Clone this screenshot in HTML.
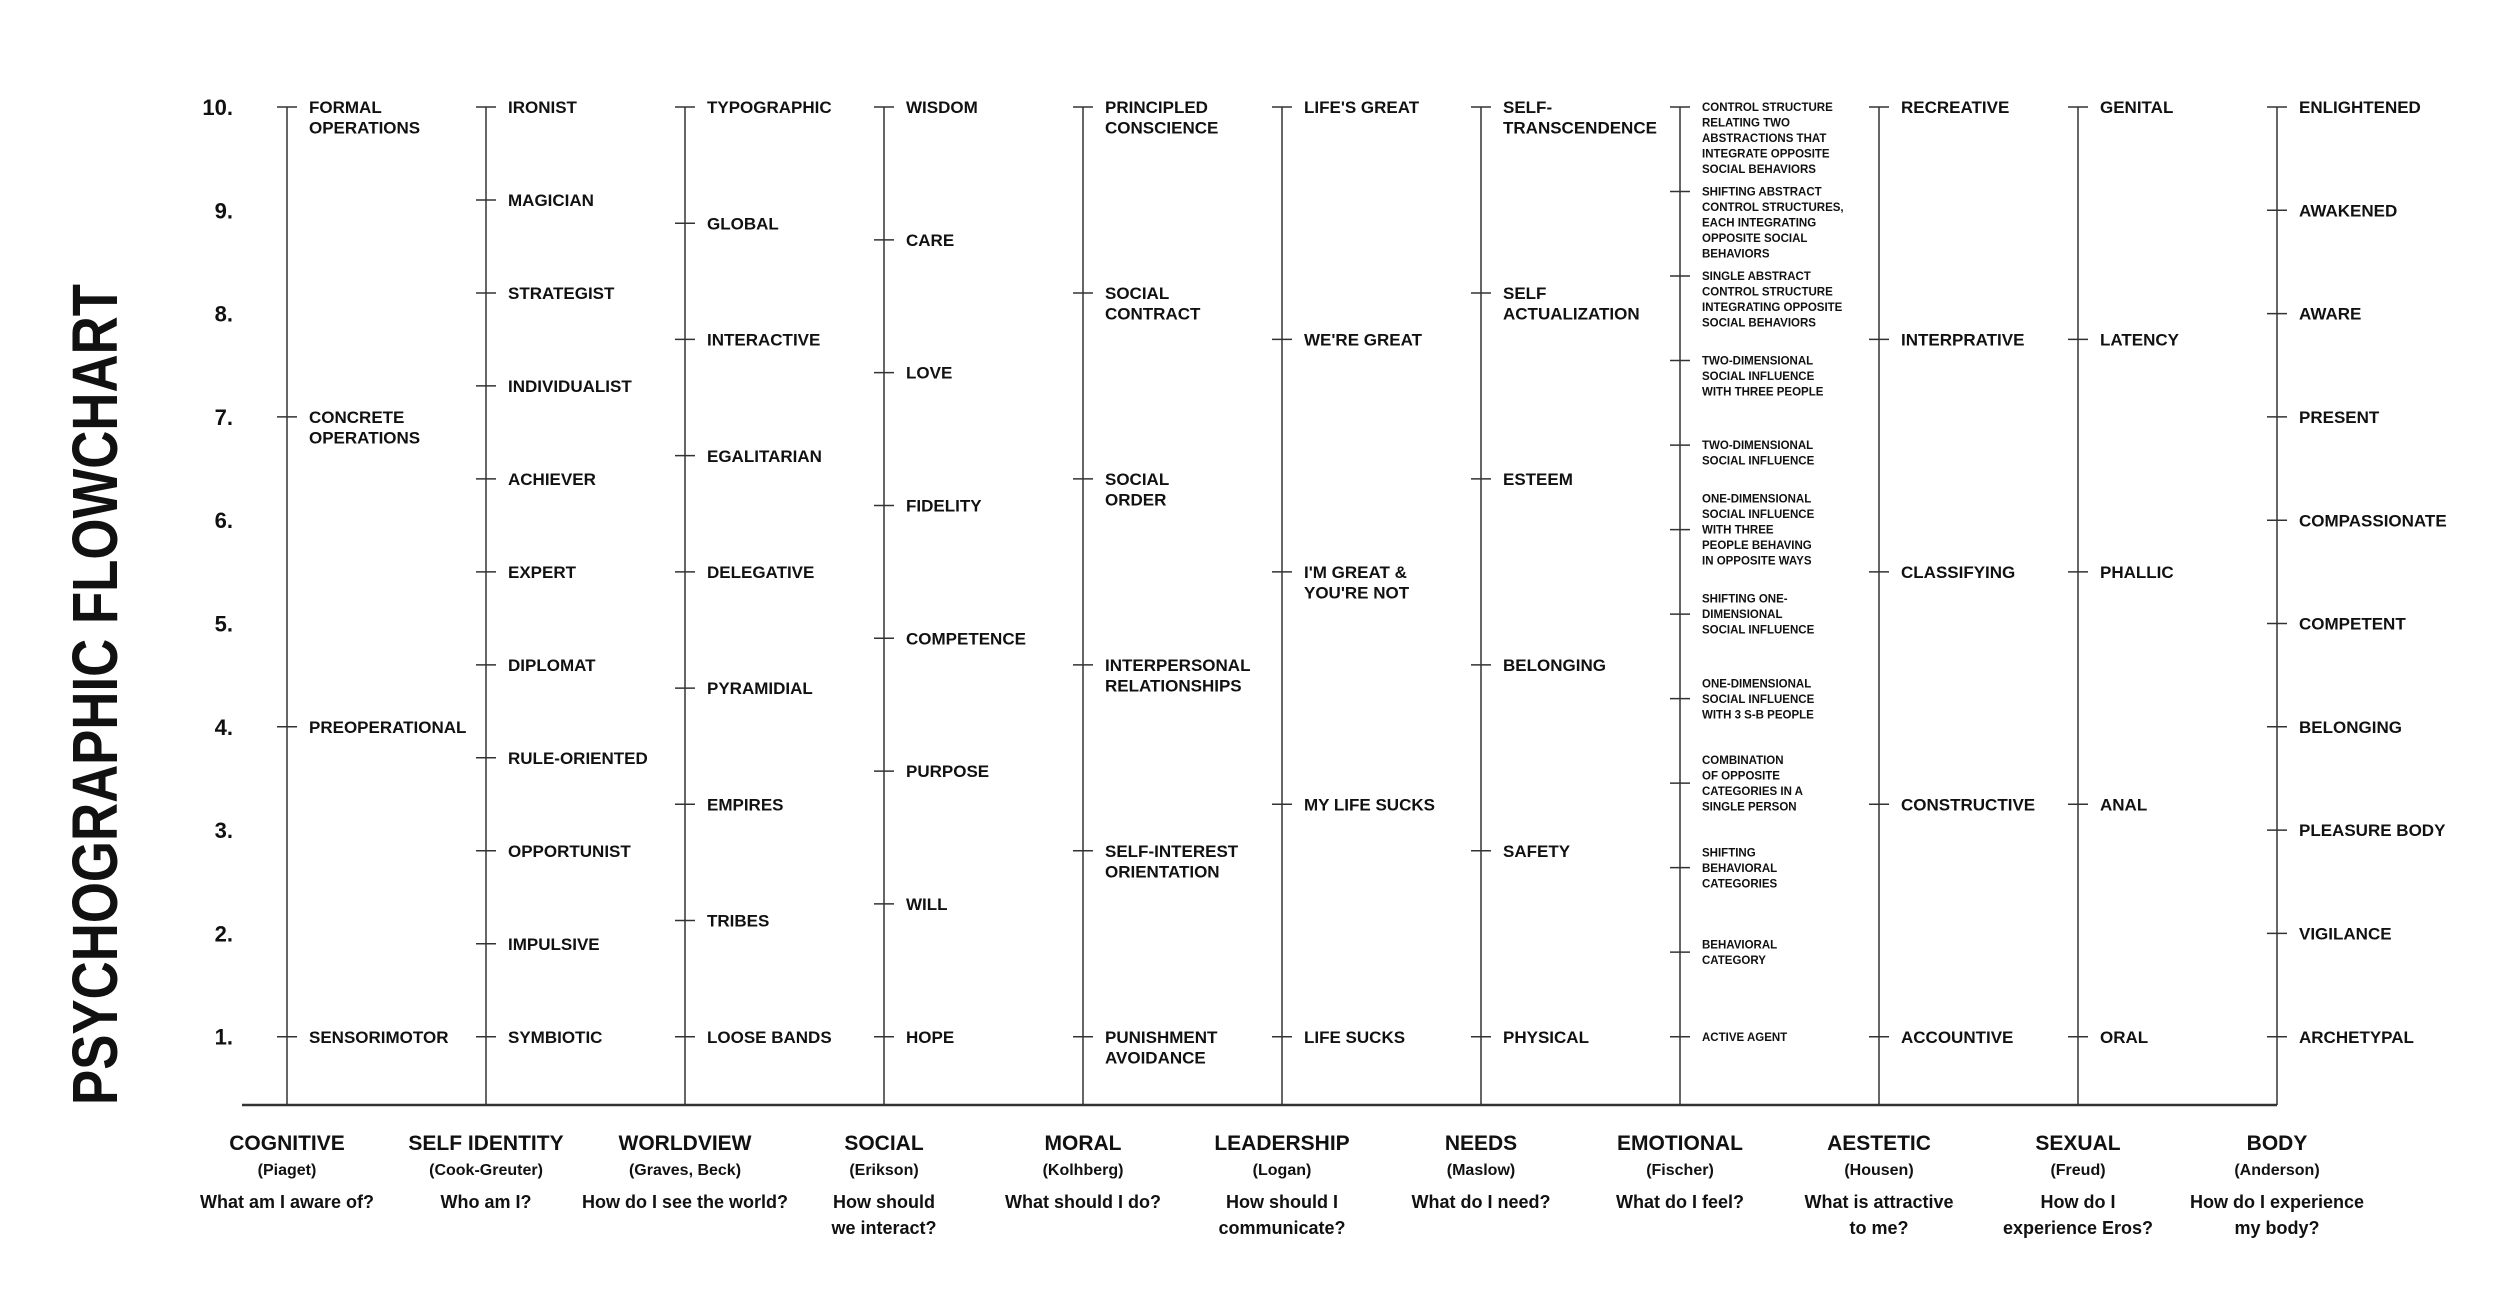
<!DOCTYPE html>
<html><head><meta charset="utf-8"><title>Psychographic Flowchart</title>
<style>
html,body{margin:0;padding:0;background:#fff;}
svg{display:block;}
text{font-family:"Liberation Sans",sans-serif;fill:#111;}
</style></head>
<body>
<svg id="chart" width="2502" height="1298" viewBox="0 0 2502 1298" xmlns="http://www.w3.org/2000/svg">
<text transform="translate(117,1105) rotate(-90)" font-size="64" font-weight="bold" textLength="821" lengthAdjust="spacingAndGlyphs">PSYCHOGRAPHIC FLOWCHART</text>
</svg>
<script>
const levelTicks = [1,2,3,4,5,6,7,8,9,10];
const categories = ["COGNITIVE","SELF IDENTITY","WORLDVIEW","SOCIAL","MORAL","LEADERSHIP","NEEDS","EMOTIONAL","AESTETIC","SEXUAL","BODY"];
const authors = ["(Piaget)","(Cook-Greuter)","(Graves, Beck)","(Erikson)","(Kolhberg)","(Logan)","(Maslow)","(Fischer)","(Housen)","(Freud)","(Anderson)"];
const questions = [["What am I aware of?"],["Who am I?"],["How do I see the world?"],["How should","we interact?"],["What should I do?"],["How should I","communicate?"],["What do I need?"],["What do I feel?"],["What is attractive","to me?"],["How do I","experience Eros?"],["How do I experience","my body?"]];
const cognitiveStages = [["FORMAL","OPERATIONS"],["CONCRETE","OPERATIONS"],["PREOPERATIONAL"],["SENSORIMOTOR"]];
const selfStages = [["IRONIST"],["MAGICIAN"],["STRATEGIST"],["INDIVIDUALIST"],["ACHIEVER"],["EXPERT"],["DIPLOMAT"],["RULE-ORIENTED"],["OPPORTUNIST"],["IMPULSIVE"],["SYMBIOTIC"]];
const worldStages = [["TYPOGRAPHIC"],["GLOBAL"],["INTERACTIVE"],["EGALITARIAN"],["DELEGATIVE"],["PYRAMIDIAL"],["EMPIRES"],["TRIBES"],["LOOSE BANDS"]];
const socialStages = [["WISDOM"],["CARE"],["LOVE"],["FIDELITY"],["COMPETENCE"],["PURPOSE"],["WILL"],["HOPE"]];
const moralStages = [["PRINCIPLED","CONSCIENCE"],["SOCIAL","CONTRACT"],["SOCIAL","ORDER"],["INTERPERSONAL","RELATIONSHIPS"],["SELF-INTEREST","ORIENTATION"],["PUNISHMENT","AVOIDANCE"]];
const leaderStages = [["LIFE'S GREAT"],["WE'RE GREAT"],["I'M GREAT &","YOU'RE NOT"],["MY LIFE SUCKS"],["LIFE SUCKS"]];
const needsStages = [["SELF-","TRANSCENDENCE"],["SELF","ACTUALIZATION"],["ESTEEM"],["BELONGING"],["SAFETY"],["PHYSICAL"]];
const emotionStages = [["CONTROL STRUCTURE","RELATING TWO","ABSTRACTIONS THAT","INTEGRATE OPPOSITE","SOCIAL BEHAVIORS"],["SHIFTING ABSTRACT","CONTROL STRUCTURES,","EACH INTEGRATING","OPPOSITE SOCIAL","BEHAVIORS"],["SINGLE ABSTRACT","CONTROL STRUCTURE","INTEGRATING OPPOSITE","SOCIAL BEHAVIORS"],["TWO-DIMENSIONAL","SOCIAL INFLUENCE","WITH THREE PEOPLE"],["TWO-DIMENSIONAL","SOCIAL INFLUENCE"],["ONE-DIMENSIONAL","SOCIAL INFLUENCE","WITH THREE","PEOPLE BEHAVING","IN OPPOSITE WAYS"],["SHIFTING ONE-","DIMENSIONAL","SOCIAL INFLUENCE"],["ONE-DIMENSIONAL","SOCIAL INFLUENCE","WITH 3 S-B PEOPLE"],["COMBINATION","OF OPPOSITE","CATEGORIES IN A","SINGLE PERSON"],["SHIFTING","BEHAVIORAL","CATEGORIES"],["BEHAVIORAL","CATEGORY"],["ACTIVE AGENT"]];
const emotionAnchor = ["first","first","first","first","first","center","center","center","center","center","center","center"];
const aestheticStages = [["RECREATIVE"],["INTERPRATIVE"],["CLASSIFYING"],["CONSTRUCTIVE"],["ACCOUNTIVE"]];
const sexualStages = [["GENITAL"],["LATENCY"],["PHALLIC"],["ANAL"],["ORAL"]];
const bodyStages = [["ENLIGHTENED"],["AWAKENED"],["AWARE"],["PRESENT"],["COMPASSIONATE"],["COMPETENT"],["BELONGING"],["PLEASURE BODY"],["VIGILANCE"],["ARCHETYPAL"]];
const cognitiveLevels = [10,7,4,1];

const svg = document.getElementById('chart');
const NS = 'http://www.w3.org/2000/svg';
const yScale = v => 107 + (10 - v) * 103.3;
const xScale = i => 287 + i * 199;
function mk(tag, attrs, parent){ const e=document.createElementNS(NS,tag); for(const k in attrs) e.setAttribute(k,attrs[k]); (parent||svg).appendChild(e); return e; }

levelTicks.forEach(v=>{
  const t = mk('text',{x:233,y:yScale(v)+8,'text-anchor':'end','font-size':22,'font-weight':'bold'});
  
  
  t.textContent = v+'.';
});

const base = mk('line',{x1:242,y1:1105,x2:xScale(10),y2:1105,stroke:'#333','stroke-width':2.5});



const columns = [cognitiveStages,selfStages,worldStages,socialStages,moralStages,leaderStages,needsStages,emotionStages,aestheticStages,sexualStages,bodyStages];
columns.forEach((stages,ci)=>{
  const x = xScale(ci);
  const g = mk('g',{});
  
  
  const ax = mk('line',{x1:x,y1:107,x2:x,y2:1105,stroke:'#333','stroke-width':1.5},g);
  
  
  const n = stages.length;
  const small = ci===7;
  stages.forEach((lines,si)=>{
    const v = ci===0 ? cognitiveLevels[si] : 10 - si*9/(n-1);
    const y = yScale(v);
    const tk = mk('line',{x1:x-10,y1:y,x2:x+10,y2:y,stroke:'#333','stroke-width':1.5},g);
    
    
    const fs = small?11.5:17, lh = small?15.5:20.5;
    let y0 = y + fs*0.36;
    if(small && emotionAnchor[si]==='center') y0 -= (lines.length-1)*lh/2;
    const t = mk('text',{x:x+22,y:y0,'font-size':fs,'font-weight':'bold'},g);
    
    
    lines.forEach((ln,li)=>{ const s=mk('tspan',{x:x+22,y:y0+li*lh},t); s.textContent=ln; });
  });
  const ct = mk('text',{x:x,y:1150,'text-anchor':'middle','font-size':21,'font-weight':'bold'},g);
  
  
  ct.textContent = categories[ci];
  const at = mk('text',{x:x,y:1175,'text-anchor':'middle','font-size':16,'font-weight':'bold'},g);
  
  
  at.textContent = authors[ci];
  questions[ci].forEach((q,qi)=>{
    const qt = mk('text',{x:x,y:1208+qi*26,'text-anchor':'middle','font-size':18,'font-weight':'bold'},g);
    
    
    qt.textContent = q;
  });
});
</script>
</body></html>
